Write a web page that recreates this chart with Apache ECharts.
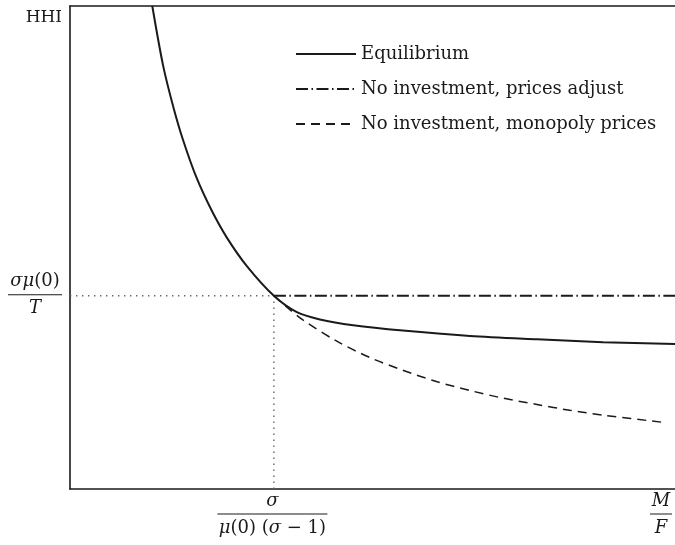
<!DOCTYPE html>
<html>
<head>
<meta charset="utf-8">
<script src="https://cdn.jsdelivr.net/npm/echarts@6/dist/echarts.min.js"></script>
<style>
  html, body { margin: 0; padding: 0; background: #fff; }
  #chart { width: 675px; height: 545px; }
</style>
</head>
<body>
<div id="chart"></div>
<script>
// x: market size M/F (plot units 0..10), y: HHI (0..1)
const kinkX = 3.37;
const kinkY = 0.40;

// equilibrium HHI
const eqX = [1.36, 1.54, 1.71, 1.87, 2.09, 2.34, 2.59, 2.92, 3.37, 3.75, 4.13, 4.68, 5.50, 6.61, 7.72, 8.81, 10];
const eqY = [1.00, 0.876, 0.790, 0.722, 0.645, 0.577, 0.521, 0.462, 0.400, 0.366, 0.351, 0.339, 0.328, 0.317, 0.310, 0.304, 0.300];

// no investment, prices adjust
const adjX = [3.37, 10];
const adjY = [0.40, 0.40];

// no investment, monopoly prices
const monoX = [3.37, 3.58, 3.85, 4.41, 4.96, 5.50, 6.07, 6.61, 7.16, 7.72, 8.26, 8.81, 9.87];
const monoY = [0.400, 0.377, 0.350, 0.306, 0.272, 0.246, 0.222, 0.204, 0.188, 0.175, 0.163, 0.153, 0.137];

const seriesNames = ['Equilibrium', 'No investment, prices adjust', 'No investment, monopoly prices'];

const zip = (xs, ys) => xs.map((x, i) => [x, ys[i]]);
const serif = 'DejaVu Serif';
const ink = '#1a1a1a';

const chart = echarts.init(document.getElementById('chart'));

const mathRich = {
    ni: { fontFamily: serif, fontStyle: 'italic', fontSize: 18, color: ink, align: 'center', lineHeight: 20 },
    n: { fontFamily: serif, fontSize: 18, color: ink, align: 'center', lineHeight: 20 },
    di: { fontFamily: serif, fontStyle: 'italic', fontSize: 18, color: ink, align: 'center', lineHeight: 22 },
    d: { fontFamily: serif, fontSize: 18, color: ink, align: 'center', lineHeight: 22 },
    bar: { width: 54, height: 1, backgroundColor: ink, align: 'center', lineHeight: 6 },
    barx: { width: 110, height: 1, backgroundColor: ink, align: 'center', lineHeight: 6 },
    bars: { width: 22, height: 1, backgroundColor: ink, align: 'center', lineHeight: 6 },
    hhi: { fontFamily: serif, fontSize: 17, color: ink, align: 'right' }
};

const option = {
    animation: false,
    backgroundColor: '#fff',
    grid: { left: 70, right: 0, top: 6, bottom: 56, containLabel: false, outerBoundsMode: 'none' },
    legend: {
        data: seriesNames,
        orient: 'vertical',
        left: 290,
        top: 40,
        itemWidth: 60,
        itemHeight: 14,
        itemGap: 17,
        itemStyle: { opacity: 0 },
        textStyle: { fontFamily: serif, fontSize: 18, color: ink, lineHeight: 16 }
    },
    xAxis: [{
        type: 'value',
        min: 0,
        max: 10,
        splitLine: { show: false },
        axisTick: { show: false },
        axisLine: { lineStyle: { color: ink, width: 1.6 } },
        axisLabel: {
            customValues: [kinkX, 10],
            margin: 2,
            alignMaxLabel: 'right',
            padding: [0, 3, 0, 0],
            formatter: (v) => v > 9
                ? '{ni|M}\n{bars|}\n{di|F}'
                : '{ni|σ}\n{barx|}\n{di|μ}{d|(0) (}{di|σ}{d| − 1)}',
            rich: mathRich,
            align: 'center'
        }
    }, {
        type: 'value',
        position: 'top',
        min: 0,
        max: 10,
        splitLine: { show: false },
        axisTick: { show: false },
        axisLabel: { show: false },
        axisLine: { show: true, lineStyle: { color: ink, width: 1.6 } }
    }],
    yAxis: {
        type: 'value',
        min: 0,
        max: 1,
        splitLine: { show: false },
        axisTick: { show: false },
        axisLine: { show: true, lineStyle: { color: ink, width: 1.6 } },
        axisLabel: {
            customValues: [kinkY, 0.977],
            margin: 8,
            formatter: (v) => v > 0.9
                ? '{hhi|HHI}'
                : '{ni|σμ}{n|(0)}\n{bar|}\n{di|T}',
            rich: mathRich
        }
    },
    series: [{
        name: 'Equilibrium',
        type: 'line',
        data: zip(eqX, eqY),
        smooth: 0.3,
        symbol: 'none',
        itemStyle: { color: ink },
        lineStyle: { color: ink, width: 2 },
        z: 5
    }, {
        name: 'No investment, prices adjust',
        type: 'line',
        data: zip(adjX, adjY),
        symbol: 'none',
        itemStyle: { color: ink },
        lineStyle: { color: ink, width: 2, type: [12, 3.5, 1.5, 3.5] }
    }, {
        name: 'No investment, monopoly prices',
        type: 'line',
        data: zip(monoX, monoY),
        smooth: 0.3,
        symbol: 'none',
        itemStyle: { color: ink },
        lineStyle: { color: ink, width: 1.5, type: [9, 6] }
    }, {
        // dotted guides to the kink
        name: 'guide-h',
        type: 'line',
        data: [[0, kinkY], [kinkX, kinkY]],
        symbol: 'none',
        silent: true,
        lineStyle: { color: '#666', width: 1.4, type: [1.4, 4.6] }
    }, {
        name: 'guide-v',
        type: 'line',
        data: [[kinkX, 0], [kinkX, kinkY]],
        symbol: 'none',
        silent: true,
        lineStyle: { color: '#666', width: 1.4, type: [1.4, 4.6] }
    }]
};

chart.setOption(option);
</script>
</body>
</html>
